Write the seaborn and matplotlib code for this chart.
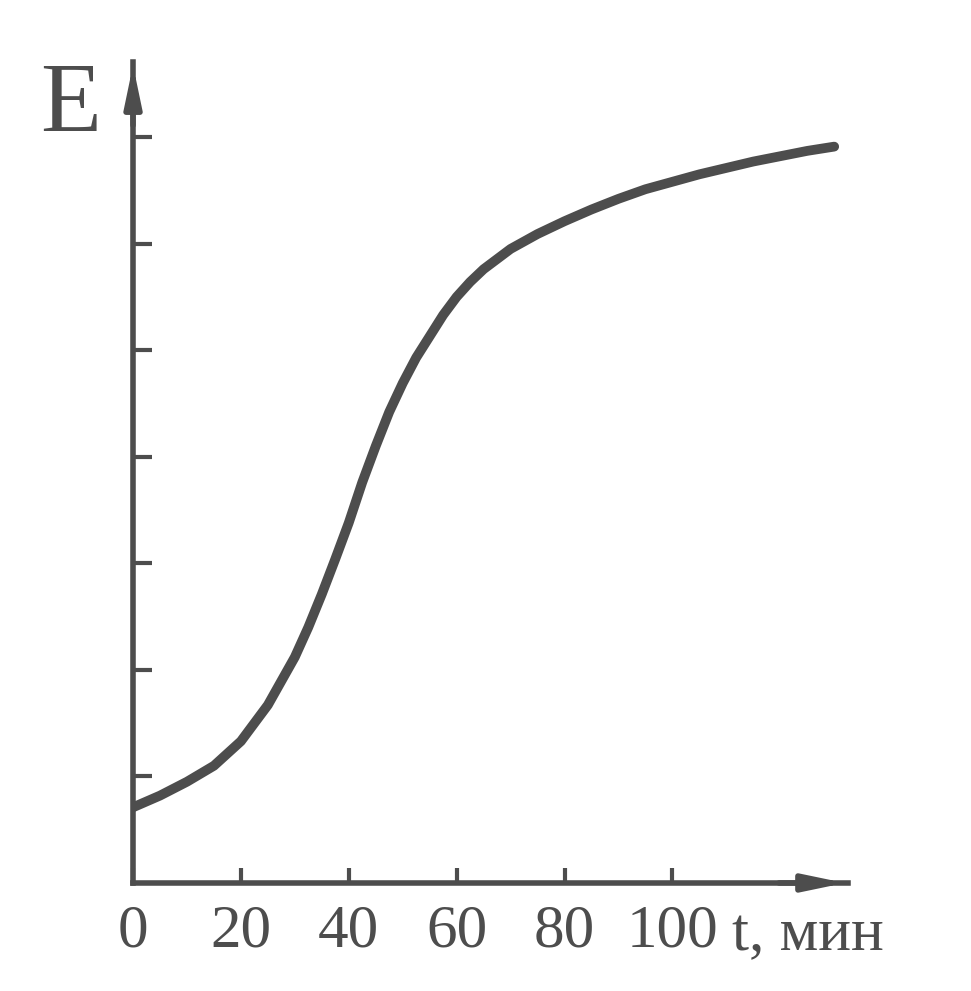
import numpy as np
import pandas as pd
import matplotlib
matplotlib.use("Agg")
import matplotlib.pyplot as plt
import seaborn as sns

# values (E in tick units)
time_min = [0, 5, 10, 15, 20, 25, 30, 32.5, 35, 37.5, 40, 42.5, 45, 47.5, 50,
            52.5, 55, 57.5, 60, 62.5, 65, 70, 75, 80, 85, 90, 95, 100, 105,
            110, 115, 120, 125, 130]
e_value = [0.71, 0.82, 0.95, 1.10, 1.33, 1.67, 2.12, 2.40, 2.71, 3.04, 3.38,
           3.76, 4.10, 4.42, 4.69, 4.93, 5.13, 5.33, 5.50, 5.64, 5.76, 5.95,
           6.09, 6.21, 6.32, 6.42, 6.51, 6.58, 6.65, 6.71, 6.77, 6.82, 6.87,
           6.91]
x_ticks = [0, 20, 40, 60, 80, 100]
x_tick_labels = ["0", "20", "40", "60", "80", "100"]
y_ticks = [1, 2, 3, 4, 5, 6, 7]

df = pd.DataFrame({"t": time_min, "E": e_value})

sns.set_style("white")
plt.rcParams["font.family"] = ["Liberation Serif", "DejaVu Serif"]

ink = "#4d4d4d"

fig = plt.figure(figsize=(9.71, 9.91), dpi=100)
ax = fig.add_axes([0.137, 0.109, 0.736, 0.828])

sns.lineplot(data=df, x="t", y="E", ax=ax, color=ink, linewidth=7,
             solid_capstyle="round")

ax.set_xlim(0, 132.5)
ax.set_ylim(0, 7.7)

for side in ["top", "right"]:
    ax.spines[side].set_visible(False)
for side in ["left", "bottom"]:
    ax.spines[side].set_color(ink)
    ax.spines[side].set_linewidth(4)

ax.set_xticks(x_ticks)
ax.set_xticklabels(x_tick_labels)
ax.set_yticks(y_ticks)
ax.set_yticklabels([])
ax.tick_params(axis="x", bottom=True, direction="in", length=11, width=3,
               color=ink, labelsize=44, labelcolor=ink, pad=15)
ax.tick_params(axis="y", left=True, direction="in", length=14, width=3,
               color=ink)
ax.set_xlabel("")
ax.set_ylabel("")

# arrow heads at the ends of the axes
head = "-|>,head_length=2.4,head_width=0.5"
ax.annotate("", xy=(1.0, 0), xytext=(0.9, 0), xycoords="axes fraction",
            arrowprops=dict(arrowstyle=head, color=ink, lw=4))
ax.annotate("", xy=(0, 1.0), xytext=(0, 0.92), xycoords="axes fraction",
            arrowprops=dict(arrowstyle=head, color=ink, lw=4))

ax.text(-0.088, 1.0, "E", transform=ax.transAxes, fontsize=72,
        color=ink, ha="center", va="top")
ax.text(111, -0.49, "t, мин", fontsize=44, color=ink, ha="left", va="center",
        clip_on=False)

fig.savefig("out.png", dpi=100, facecolor="white")
